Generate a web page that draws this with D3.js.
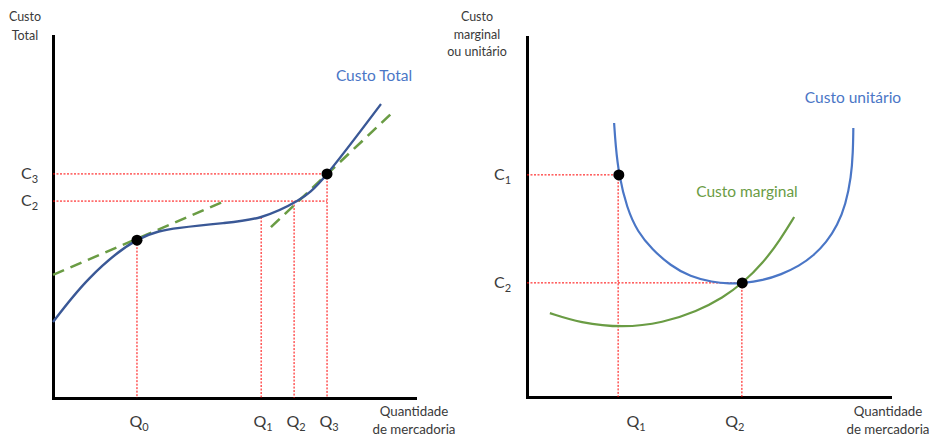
<!DOCTYPE html>
<html><head><meta charset="utf-8">
<script src="https://cdn.jsdelivr.net/npm/d3@7"></script>
<style>
body{margin:0;background:#fff;}
svg{display:block;font-family:Lato, "Open Sans", sans-serif;}
</style></head>
<body>
<svg id="c" width="933" height="439"></svg>
<script>
// ---------- DATA ----------
// Left panel: total cost curve (x = quantity, y = cost), arbitrary units 0..100
const totalCostX = [0, 10, 23.2, 35, 47, 57.5, 67.4, 75.7, 90.6];
const totalCostY = [21.0, 33.0, 43.6, 47.0, 48.3, 50.0, 54.4, 61.9, 81.2];
const tangent1 = [[0, 34.0], [48.1, 54.7]];
const tangent2 = [[60.2, 47.2], [93.6, 78.7]];
const leftQ = ["0", "1", "2", "3"];
const leftQValues = [23.2, 57.5, 66.6, 75.7];
const leftQCurveY = [43.6, 50.0, 54.4, 61.9];
const leftC = ["3", "2"];
const leftCValues = [61.9, 54.4];
const leftPoints = [[23.2, 43.6], [75.7, 61.9]];

// Right panel: unit cost and marginal cost curves
const unitCostX = [24.0, 24.4, 25.3, 27.5, 30.5, 34.5, 39.5, 45, 51, 56, 59.2, 65, 70, 75, 79, 82.5, 85.5, 87.8, 89.3, 89.8, 89.9];
const unitCostY = [76.1, 70.0, 61.7, 52.5, 45.8, 41.0, 36.5, 33.4, 31.9, 31.5, 31.6, 32.4, 34.0, 36.4, 39.3, 43.0, 47.6, 53.5, 61.0, 68.0, 74.7];
const marginalX = [6.3, 14.6, 26.4, 37.5, 46.8, 54.0, 59.5, 65.0, 69.7, 73.6];
const marginalY = [23.3, 20.6, 19.2, 20.6, 23.8, 27.6, 31.7, 37.2, 43.6, 50.0];
const rightQ = ["1", "2"];
const rightQValues = [25.1, 59.2];
const rightQCurveY = [61.7, 31.7];
const rightC = ["1", "2"];
const rightCValues = [61.7, 31.7];
const rightPoints = [[25.3, 61.7], [59.3, 31.7]];

// ---------- DRAW ----------
const svg = d3.select("#c");
const TXT = "#3a3a3a", RED = "#ff0000", BLUE_DARK = "#3a5896", BLUE = "#4a76c6", GREEN = "#6a9c44";

function panel(opt){
  const g = svg.append("g");
  const x = d3.scaleLinear().domain([0,100]).range(opt.xr);
  const y = d3.scaleLinear().domain([0,100]).range(opt.yr);
  const ax = g.append("g").attr("transform",`translate(0,${opt.yr[0]})`)
    .call(d3.axisBottom(x).tickValues([]).tickSizeOuter(0));
  const ay = g.append("g").attr("transform",`translate(${opt.xr[0]},0)`)
    .call(d3.axisLeft(y).tickValues([]).tickSizeOuter(0));
  [ax, ay].forEach(a => a.select(".domain").attr("stroke","#000").attr("stroke-width",3).attr("stroke-linecap","square"));
  return {g, x, y};
}

function guides(p, qs, qy, cs, cMaxX){
  qs.forEach((q,i) => {
    p.g.append("line").attr("x1",p.x(q)).attr("x2",p.x(q))
      .attr("y1",p.y(qy[i])).attr("y2",p.y(0))
      .attr("stroke",RED).attr("stroke-width",1).attr("stroke-dasharray","2,1.5");
  });
  cs.forEach((c,i) => {
    p.g.append("line").attr("x1",p.x(0)).attr("x2",p.x(cMaxX[i]))
      .attr("y1",p.y(c)).attr("y2",p.y(c))
      .attr("stroke",RED).attr("stroke-width",1).attr("stroke-dasharray","2,1.5");
  });
}

function subLabel(g, main, sub, x, y, anchor){
  const t = g.append("text").attr("x",x).attr("y",y).attr("fill",TXT)
    .attr("font-size",16).attr("text-anchor",anchor||"middle");
  t.append("tspan").text(main);
  t.append("tspan").text(sub).attr("font-size",11).attr("dy",4);
}

function multiText(g, lines, x, y, lh, fs){
  const t = g.append("text").attr("x",x).attr("y",y).attr("fill",TXT)
    .attr("font-size",fs||12.5).attr("text-anchor","middle");
  lines.forEach((l,i) => t.append("tspan").attr("x",x).attr("dy", i===0?0:lh).text(l));
}

// ---- Left panel ----
const L = panel({xr:[53,415], yr:[398,36]});
guides(L, leftQValues, leftQCurveY, leftCValues, [75.7, 75.7]);

const lineL = d3.line().x(d=>L.x(d[0])).y(d=>L.y(d[1]));
[tangent1, tangent2].forEach(t => {
  L.g.append("path").datum(t).attr("d",lineL).attr("fill","none")
    .attr("stroke",GREEN).attr("stroke-width",2.6).attr("stroke-dasharray","12,7");
});
const tc = totalCostX.map((v,i)=>[v,totalCostY[i]]);
L.g.append("path").datum(tc).attr("d", d3.line().x(d=>L.x(d[0])).y(d=>L.y(d[1])).curve(d3.curveNatural))
  .attr("fill","none").attr("stroke",BLUE_DARK).attr("stroke-width",2.4);
L.g.selectAll("circle").data(leftPoints).join("circle")
  .attr("cx",d=>L.x(d[0])).attr("cy",d=>L.y(d[1])).attr("r",5.5).attr("fill","#000");

leftQ.forEach((s,i)=> subLabel(L.g,"Q",s,L.x(leftQValues[i])+2,427));
leftC.forEach((s,i)=> subLabel(L.g,"C",s,21,L.y(leftCValues[i])+5,"start"));
multiText(L.g,["Custo","Total"],25,21,19);
multiText(L.g,["Quantidade","de mercadoria"],414,416,18,13.3);
L.g.append("text").attr("x",374).attr("y",81).attr("text-anchor","middle")
  .attr("font-size",15.5).attr("fill",BLUE).text("Custo Total");

// ---- Right panel ----
const R = panel({xr:[527,890], yr:[397,37]});
guides(R, rightQValues, rightQCurveY, rightCValues, [25.1, 59.2]);
const lineR = d3.line().x(d=>R.x(d[0])).y(d=>R.y(d[1])).curve(d3.curveBasis);
const mc = marginalX.map((v,i)=>[v,marginalY[i]]);
const uc = unitCostX.map((v,i)=>[v,unitCostY[i]]);
R.g.append("path").datum(mc).attr("d",lineR).attr("fill","none").attr("stroke",GREEN).attr("stroke-width",2.2);
R.g.append("path").datum(uc).attr("d",lineR).attr("fill","none").attr("stroke",BLUE).attr("stroke-width",2.2);
R.g.selectAll("circle").data(rightPoints).join("circle")
  .attr("cx",d=>R.x(d[0])).attr("cy",d=>R.y(d[1])).attr("r",5.5).attr("fill","#000");

subLabel(R.g,"Q",rightQ[0],R.x(rightQValues[0])+18,427);
subLabel(R.g,"Q",rightQ[1],R.x(rightQValues[1])-7,427);
rightC.forEach((s,i)=> subLabel(R.g,"C",s,494,R.y(rightCValues[i])+5,"start"));
multiText(R.g,["Custo","marginal","ou unitário"],477,21,17.5);
multiText(R.g,["Quantidade","de mercadoria"],888,416,18,13.3);
R.g.append("text").attr("x",853).attr("y",103).attr("text-anchor","middle")
  .attr("font-size",15.5).attr("fill",BLUE).text("Custo unitário");
R.g.append("text").attr("x",747).attr("y",197).attr("text-anchor","middle")
  .attr("font-size",15.5).attr("fill",GREEN).text("Custo marginal");
</script>
</body></html>
